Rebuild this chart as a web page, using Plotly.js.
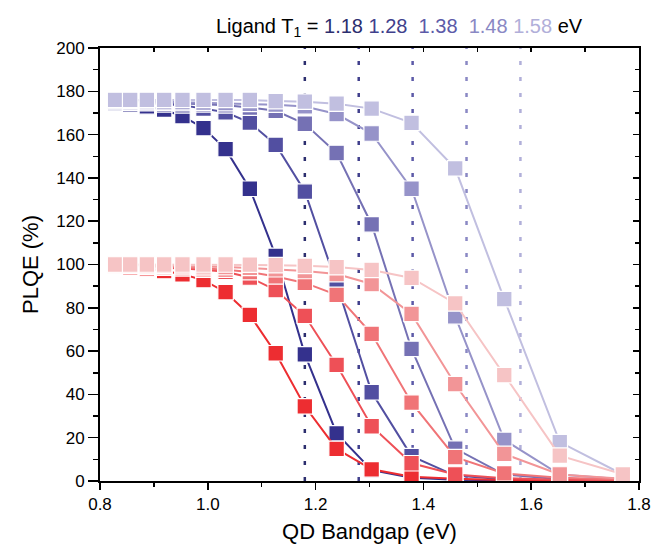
<!DOCTYPE html>
<html><head><meta charset="utf-8">
<script src="https://cdn.plot.ly/plotly-3.0.1.min.js"></script>
<style>body{margin:0;background:#fff}</style>
</head><body><div id="chart" style="width:652px;height:547px"></div>
<script>
// QD bandgap (eV) of each point
const bandgap = [0.828, 0.856, 0.887, 0.919, 0.953, 0.992, 1.033, 1.078, 1.126, 1.180, 1.239, 1.304, 1.378, 1.459, 1.550, 1.653, 1.770];
// Ligand T1 energies (eV)
const ligandT1 = [1.18, 1.28, 1.38, 1.48, 1.58];
const ligandLabels = ['1.18', '1.28', '1.38', '1.48', '1.58'];

// upper (blue) series, PLQE %
const upper118 = [174.5, 174, 173, 171.5, 168.5, 163, 153.3, 135, 104, 58.5, 22, 5, 1.5, 0.6, 0.3, 0.2, 0.1];
const upper128 = [175, 174.8, 174.5, 174, 173.5, 172, 170.3, 165.5, 155.3, 133.7, 91, 41, 11.5, 2.5, 0.8, 0.4, 0.2];
const upper138 = [175.5, 175.3, 175, 174.8, 174.5, 174, 173.5, 172.5, 171, 165, 151.5, 118.5, 61, 15, 3, 0.8, 0.3];
const upper148 = [175.8, 175.6, 175.5, 175.3, 175, 174.8, 174.5, 174.2, 173.8, 173, 169.5, 160.5, 135, 76, 19, 3, 0.8];
const upper158 = [176, 176, 176, 176, 176, 176, 176, 176, 175.5, 175.2, 174.3, 172, 165.4, 144.4, 84, 18, 3];

// lower (red) series, PLQE %
const lower118 = [99, 98.6, 98.2, 97, 95.5, 92.8, 87.2, 76.7, 59, 34.5, 14.8, 5.4, 2, 1, 0.5, 0.3, 0.2];
const lower128 = [99.4, 99.2, 99, 98.6, 98.2, 97.6, 96.6, 94, 88.2, 76.3, 53.6, 25.3, 8.2, 3, 1.3, 0.6, 0.3];
const lower138 = [99.6, 99.5, 99.3, 99.1, 98.8, 98.3, 97.6, 96.5, 94.5, 91.5, 86, 68, 36.2, 11, 3.5, 1.5, 0.7];
const lower148 = [99.8, 99.7, 99.6, 99.5, 99.3, 99.1, 98.8, 98.4, 97.8, 97, 95.6, 91, 77.2, 44.7, 12.5, 3, 1];
const lower158 = [100, 100, 100, 100, 100, 100, 100, 99.9, 99.7, 99.4, 98.8, 97.5, 93.8, 82, 48.9, 11.7, 3.1];

const upperSeries = [upper118, upper128, upper138, upper148, upper158];
const lowerSeries = [lower118, lower128, lower138, lower148, lower158];
const blueColors = ['#34318d', '#524fa1', '#7571b4', '#9693c9', '#c1bfe0'];
const redColors = ['#ed2d31', '#ee5057', '#f07477', '#f29597', '#f6c4c5'];
const vlineColors = ['#2c2e6e', '#403f8c', '#5c5aa8', '#8a88c4', '#b1afd9'];

const FONT = 'Arial, "Liberation Sans", sans-serif';
const traces = [];

ligandT1.forEach((t, i) => {
  traces.push({
    x: [t, t], y: [0, 200], mode: 'lines', showlegend: false, hoverinfo: 'skip',
    line: {color: vlineColors[i], width: 2.5, dash: '4px,12px'}
  });
});

function addSeries(vals, color) {
  traces.push({
    x: bandgap, y: vals, mode: 'lines+markers', showlegend: false,
    line: {color: color, width: 2},
    marker: {symbol: 'square', size: 15.5, color: color, line: {color: '#ffffff', width: 1.2}}
  });
}
upperSeries.forEach((s, i) => addSeries(s, blueColors[i]));
lowerSeries.forEach((s, i) => addSeries(s, redColors[i]));

traces.push({x: [], y: [], xaxis: 'x2', yaxis: 'y2', showlegend: false, hoverinfo: 'skip'});

const nb = '\u00a0';
const titleText = 'Ligand T<sub>1</sub> = ' +
  '<span style="color:' + vlineColors[0] + '">' + ligandLabels[0] + '</span> ' +
  '<span style="color:' + vlineColors[1] + '">' + ligandLabels[1] + '</span>' + nb + ' ' +
  '<span style="color:' + vlineColors[2] + '">' + ligandLabels[2] + '</span>' + nb + ' ' +
  '<span style="color:' + vlineColors[3] + '">' + ligandLabels[3] + '</span> ' +
  '<span style="color:' + vlineColors[4] + '">' + ligandLabels[4] + '</span> eV';

const axBase = {
  showgrid: false, zeroline: false, showline: true, linecolor: '#000', linewidth: 2,
  tickcolor: '#000', tickwidth: 1.5, tickfont: {family: FONT, size: 17, color: '#000'}
};

const layout = {
  width: 652, height: 547,
  margin: {l: 100, r: 13, t: 48, b: 66},
  paper_bgcolor: '#fff', plot_bgcolor: '#fff',
  font: {family: FONT, color: '#000'},
  title: {text: titleText, font: {family: FONT, size: 20, color: '#000'},
          xref: 'container', yref: 'container', x: 0.612, xanchor: 'center', y: 0.953, yanchor: 'middle'},
  xaxis: Object.assign({}, axBase, {
    range: [0.8, 1.8], tick0: 0.8, dtick: 0.2, tickformat: '.1f',
    ticks: 'outside', ticklen: 7,
    minor: {ticks: 'outside', ticklen: 4, dtick: 0.1, tickcolor: '#000', tickwidth: 1.5},
    title: {text: 'QD Bandgap (eV)', font: {family: FONT, size: 22, color: '#000'}, standoff: 10}
  }),
  yaxis: Object.assign({}, axBase, {
    range: [0, 200], tick0: 0, dtick: 20,
    ticks: 'outside', ticklen: 10,
    minor: {ticks: 'outside', ticklen: 5, dtick: 10, tickcolor: '#000', tickwidth: 1.5},
    title: {text: 'PLQE (%)', font: {family: FONT, size: 22, color: '#000'}, standoff: 12}
  }),
  xaxis2: Object.assign({}, axBase, {
    overlaying: 'x', side: 'top', anchor: 'y', range: [0.8, 1.8], tick0: 0.8, dtick: 0.1,
    ticks: 'inside', ticklen: 4, showticklabels: false
  }),
  yaxis2: Object.assign({}, axBase, {
    overlaying: 'y', side: 'right', anchor: 'x', range: [0, 200], tick0: 0, dtick: 20,
    ticks: 'inside', ticklen: 6, showticklabels: false,
    minor: {ticks: 'inside', ticklen: 4, dtick: 10, tickcolor: '#000', tickwidth: 1.5}
  })
};

Plotly.newPlot('chart', traces, layout, {displayModeBar: false, staticPlot: true});
</script>
</body></html>
